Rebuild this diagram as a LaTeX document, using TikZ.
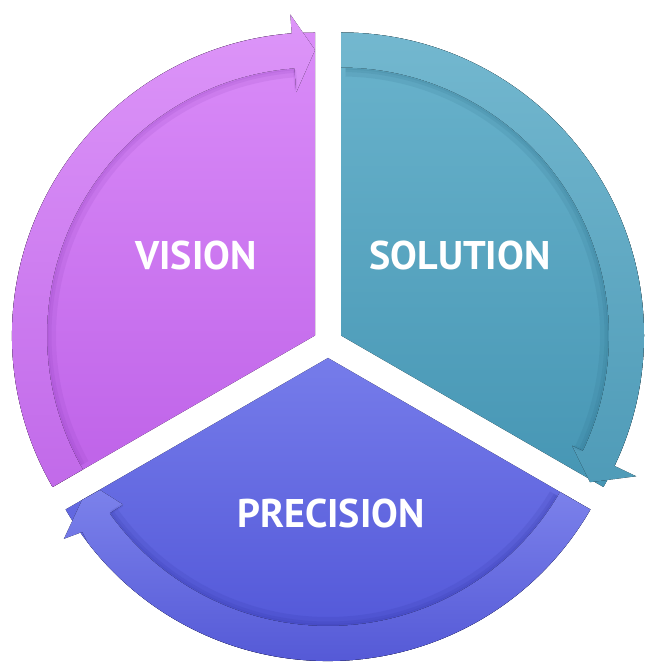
\documentclass[tikz,border=0pt]{standalone}
\usepackage{fontspec}
\setmainfont{PT Sans}
\usetikzlibrary{calc}
\definecolor{visTop}{HTML}{DA8CF8}
\definecolor{visBot}{HTML}{BE62E8}
\definecolor{visShade}{HTML}{8A3CB8}
\definecolor{solTop}{HTML}{6AB3CC}
\definecolor{solBot}{HTML}{4696B4}
\definecolor{solShade}{HTML}{2A6A84}
\definecolor{preTop}{HTML}{767CEA}
\definecolor{preBot}{HTML}{4A4FD4}
\definecolor{preShade}{HTML}{2E32A0}
\newcommand{\Rout}{303}
\newcommand{\Rin}{268}

\begin{document}
\begin{tikzpicture}[x=1pt,y=1pt,
	sectlabel/.style={text=white,inner sep=0pt,font=\bfseries\fontsize{40}{40}\selectfont},
	rimshade/.style={line width=#1,opacity=0.13}]
	\useasboundingbox (0,0) rectangle (672,669);
	%\draw[help lines] (0,0) grid[step=50] (672,669);
	%APEXES
	\coordinate (vis) at (315,333.5);
	\coordinate (sol) at (341,333.5);
	\coordinate (pre) at (328,311);
	%VISION
	\begin{scope}[shift={(vis)}]
		\fill[top color=visTop,bottom color=visBot] (0,0) -- (90:\Rout) arc[start angle=90,end angle=210,radius=\Rout] -- cycle;
		\fill[top color=visTop!92!white,bottom color=visBot!95!white] (210:\Rout) arc[start angle=210,end angle=94.4,radius=\Rout] -- (94.4:322) -- (90:285.5) -- (94.4:244) -- (94.4:\Rin) arc[start angle=94.4,end angle=210,radius=\Rin] -- cycle;
		\foreach \w/\r in {8/263,4/265.5,2/267}
			\draw[visShade,rimshade=\w] (94.4:\r) arc[start angle=94.4,end angle=209,radius=\r];
		\draw[visShade,rimshade=3] (94.4:266) -- (94.4:246);
	\end{scope}
	%SOLUTION
	\begin{scope}[shift={(sol)}]
		\fill[top color=solTop,bottom color=solBot] (0,0) -- (90:\Rout) arc[start angle=90,end angle=-30,radius=\Rout] -- cycle;
		\fill[top color=solTop!94!white,bottom color=solBot!95!white] (90:\Rout) arc[start angle=90,end angle=-25.5,radius=\Rout] -- (-25.5:327) -- (-30.5:289) -- (-25.5:256) -- (-25.5:\Rin) arc[start angle=-25.5,end angle=90,radius=\Rin] -- cycle;
		\foreach \w/\r in {8/263,4/265.5,2/267}
			\draw[solShade,rimshade=\w] (89:\r) arc[start angle=89,end angle=-25.5,radius=\r];
		\draw[solShade,rimshade=3] (-25.5:266) -- (-25.5:258);
	\end{scope}
	%PRECISION
	\begin{scope}[shift={(pre)}]
		\fill[top color=preTop,bottom color=preBot] (0,0) -- (-30:\Rout) arc[start angle=-30,end angle=-150,radius=\Rout] -- cycle;
		\fill[top color=preTop!96!white,bottom color=preBot!94!white] (-30:\Rout) arc[start angle=-30,end angle=-142.5,radius=\Rout] -- (-144.7:301) -- (-145.6:320) -- (-150:284) -- (-149.93:263.5) -- (-144.4:252) -- (-144.6:\Rin) arc[start angle=-144.6,end angle=-30,radius=\Rin] -- cycle;
		\foreach \w/\r in {8/263,4/265.5,2/267}
			\draw[preShade,rimshade=\w] (-31:\r) arc[start angle=-31,end angle=-144.6,radius=\r];
		\draw[preShade,rimshade=3] (-144.6:266) -- (-144.4:253);
	\end{scope}
	%LABELS
	\node[sectlabel] (visLabel) at (196,413) {VISION};
	\node[sectlabel] (solLabel) at (460,413.5) {SOLUTION};
	\node[sectlabel] (preLabel) at (331,155) {PRECISION};
\end{tikzpicture}
\end{document}
